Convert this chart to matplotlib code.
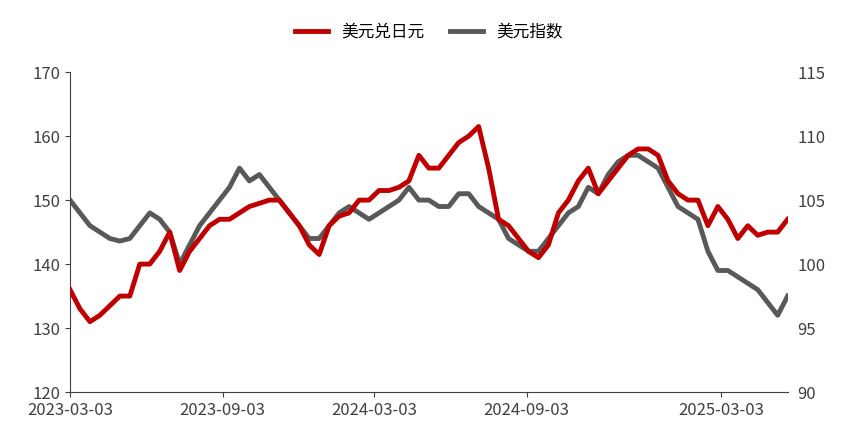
import matplotlib
matplotlib.use("Agg")
import matplotlib.pyplot as plt
import numpy as np

plt.rcParams['font.family'] = ['Noto Sans CJK SC', 'DejaVu Sans']

usdjpy = [136,133,131,132,133.5,135,135,140,140,142,145,139,142,144,146,147,147,148,149,149.5,
          150,150,148,146,143,141.5,146,147.5,148,150,150,151.5,151.5,152,153,157,155,155,157,159,
          160,161.5,155,147,146,144,142,141,143,148,150,153,155,151,153,155,157,158,158,157,
          153,151,150,150,146,149,147,144,146,144.5,145,145,147]
dxy = [105,104,103,102.5,102,101.8,102,103,104,103.5,102.5,100,101.5,103,104,105,106,107.5,106.5,107,
       106,105,104,103,102,102,103,104,104.5,104,103.5,104,104.5,105,106,105,105,104.5,104.5,105.5,
       105.5,104.5,104,103.5,102,101.5,101,101,102,103,104,104.5,106,105.5,107,108,108.5,108.5,108,107.5,
       106,104.5,104,103.5,101,99.5,99.5,99,98.5,98,97,96,97.5]
tick_pos = [0, 15.3, 30.5, 45.8, 65.3]
tick_labels = ['2023-03-03', '2023-09-03', '2024-03-03', '2024-09-03', '2025-03-03']

x = np.arange(len(usdjpy))
fig = plt.figure(figsize=(8.58, 4.40), dpi=100)
ax = fig.add_axes([0.0816, 0.109, 0.8364, 0.727])
ax2 = ax.twinx()
l1, = ax.plot(x, usdjpy, color='#C00000', lw=3.5, label='美元兑日元', zorder=3)
l2, = ax2.plot(x, dxy, color='#595959', lw=3.5, label='美元指数')
ax.set_zorder(ax2.get_zorder() + 1); ax.patch.set_visible(False)
ax.set_xlim(0, len(usdjpy) - 1)
ax.set_ylim(120, 170); ax.set_yticks(range(120, 171, 10))
ax2.set_ylim(90, 115); ax2.set_yticks(range(90, 116, 5))
ax.set_xticks(tick_pos); ax.set_xticklabels(tick_labels)
for a in (ax, ax2):
    for s in ['top', 'right']:
        a.spines[s].set_visible(False)
    a.tick_params(labelsize=12, colors='#404040')
ax2.spines['left'].set_visible(False); ax2.spines['bottom'].set_visible(False)
ax2.tick_params(right=False)
ax.spines['left'].set_color('#404040'); ax.spines['bottom'].set_color('#404040')
fig.legend(handles=[l1, l2], loc='upper center', bbox_to_anchor=(0.5, 0.98), ncol=2,
           frameon=False, fontsize=12, handlelength=2, columnspacing=1.5)
fig.savefig('out.png', dpi=100)
